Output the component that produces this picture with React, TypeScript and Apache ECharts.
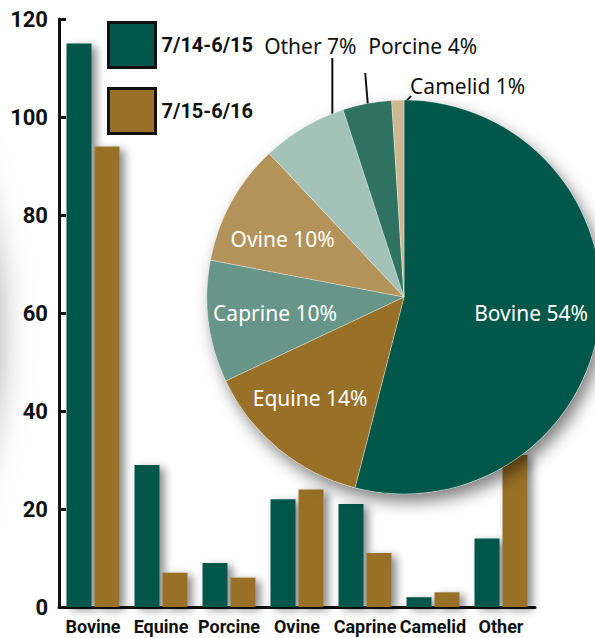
import React, { useEffect, useRef } from "react";
import * as echarts from "echarts";

const categories = ["Bovine", "Equine", "Porcine", "Ovine", "Caprine", "Camelid", "Other"];
const seriesNames = ["7/14-6/15", "7/15-6/16"];
const values1415 = [115, 29, 9, 22, 21, 2, 14];
const values1516 = [94, 7, 6, 24, 11, 3, 31];
const yMin = 0;
const yMax = 120;
const yInterval = 20;

const pieNames = ["Bovine", "Equine", "Caprine", "Ovine", "Other", "Porcine", "Camelid"];
const pieValues = [54, 14, 10, 10, 7, 4, 1];
const pieColors = ["#00574A", "#987028", "#679587", "#B39359", "#A3C2B8", "#2F7262", "#CDB991"];
const pieInside = [true, true, true, true, false, false, false];

const GREEN = "#00574A";
const BROWN = "#987028";
const CONDENSED = "Roboto, 'Liberation Sans Narrow', sans-serif";
const HUMANIST = "'Noto Sans', 'Open Sans', sans-serif";

const PIE_CX = 404;
const PIE_CY = 297;
const PIE_R = 197;

// point at fraction f through slice i, at radius rr
function slicePoint(i: number, f: number, rr: number): [number, number] {
  const total = pieValues.reduce((a, b) => a + b, 0);
  let acc = 0;
  for (let j = 0; j < i; j++) acc += pieValues[j];
  const ang = ((acc + pieValues[i] * f) / total) * Math.PI * 2;
  return [PIE_CX + Math.sin(ang) * rr, PIE_CY - Math.cos(ang) * rr];
}

const insideRatio = [0.65, 0.7, 0.66, 0.68];
const insideShift = [[0, 0], [-6, -5], [0, 0], [-4, 7]];

function pieLabelLayout(params: any) {
  const i = params.dataIndex;
  if (pieInside[i]) {
    const [x, y] = slicePoint(i, 0.5, PIE_R * insideRatio[i]);
    return {
      x: x + insideShift[i][0],
      y: y + insideShift[i][1],
      align: "center",
      verticalAlign: "middle",
    };
  }
  const name = pieNames[i];
  if (name === "Other") {
    const [sx, sy] = slicePoint(i, 0.83, PIE_R - 8);
    const ex = sx;
    const ey = 58;
    return {
      x: ex - 22,
      y: 46,
      align: "center",
      verticalAlign: "middle",
      labelLinePoints: [[sx, sy], [ex, (sy + ey) / 2], [ex, ey]],
    };
  }
  if (name === "Porcine") {
    const [sx, sy] = slicePoint(i, 0.5, PIE_R - 6);
    const ex = sx - 3;
    const ey = 73;
    return {
      x: ex + 3,
      y: 46,
      align: "left",
      verticalAlign: "middle",
      labelLinePoints: [[sx, sy], [ex, ey], [ex, ey]],
    };
  }
  // Camelid
  const [sx, sy] = slicePoint(i, 0.5, PIE_R - 9);
  const ex = sx + 13;
  const ey = sy - 13;
  return {
    x: ex - 1,
    y: 86,
    align: "left",
    verticalAlign: "middle",
    labelLinePoints: [[sx, sy], [ex, ey], [ex, ey]],
  };
}

export default function App() {
  const ref = useRef<HTMLDivElement>(null);

  useEffect(() => {
    if (!ref.current) return;
    const chart = echarts.init(ref.current, undefined, { renderer: "svg" });
    const pieTotal = pieValues.reduce((a, b) => a + b, 0);

    const barShadow = {
      shadowColor: "rgba(0,0,0,0.45)",
      shadowBlur: 9,
      shadowOffsetX: 5,
      shadowOffsetY: 3,
    };

    chart.setOption({
      animation: false,
      backgroundColor: "#ffffff",
      graphic: [
        {
          type: "circle",
          silent: true,
          z: -10,
          shape: { cx: -482, cy: 330, r: 480 },
          style: { fill: "#a8a8a8", shadowBlur: 34, shadowColor: "#a0a0a0" },
        },
      ],
      legend: {
        data: seriesNames,
        orient: "vertical",
        left: 102,
        top: 16,
        icon: "rect",
        itemWidth: 47,
        itemHeight: 45,
        itemGap: 18,
        itemStyle: { borderColor: "#111", borderWidth: 3, shadowBlur: 0, shadowOffsetX: 0, shadowOffsetY: 0 },
        textStyle: {
          fontFamily: CONDENSED,
          fontWeight: "bold",
          fontSize: 20,
          color: "#111",
          padding: [0, 0, 14, 1],
        },
      },
      grid: { left: 59, right: 60, top: 19, bottom: 31, outerBoundsMode: "none" },
      xAxis: {
        type: "category",
        data: categories,
        axisLine: { lineStyle: { color: "#111", width: 3 } },
        axisTick: { inside: true, length: 14, lineStyle: { color: "#111", width: 3 } },
        axisLabel: {
          fontFamily: CONDENSED,
          fontWeight: "bold",
          fontSize: 18,
          color: "#111",
          margin: 10,
          interval: 0,
        },
      },
      yAxis: {
        type: "value",
        min: yMin,
        max: yMax,
        interval: yInterval,
        splitLine: { show: false },
        axisLine: { show: true, lineStyle: { color: "#111", width: 3 } },
        axisTick: { show: true, inside: true, length: 7, lineStyle: { color: "#111", width: 3 } },
        axisLabel: {
          fontFamily: CONDENSED,
          fontWeight: "bold",
          fontSize: 22,
          color: "#111",
          margin: 11,
        },
      },
      series: [
        {
          name: seriesNames[0],
          type: "bar",
          data: values1415,
          barWidth: 25,
          barGap: "12%",
          itemStyle: { color: GREEN, ...barShadow },
          z: 2,
        },
        {
          name: seriesNames[1],
          type: "bar",
          data: values1516,
          barWidth: 25,
          barGap: "12%",
          itemStyle: { color: BROWN, ...barShadow },
          z: 2,
        },
        {
          name: "pie-shadow",
          type: "pie",
          silent: true,
          center: [PIE_CX, PIE_CY],
          radius: [0, PIE_R],
          z: 3,
          label: { show: false },
          labelLine: { show: false },
          data: [{ value: pieTotal, name: "" }],
          itemStyle: {
            color: "#ffffff",
            shadowColor: "rgba(0,0,0,0.5)",
            shadowBlur: 16,
            shadowOffsetX: 5,
            shadowOffsetY: 8,
          },
        },
        {
          name: "share",
          type: "pie",
          center: [PIE_CX, PIE_CY],
          radius: [0, PIE_R],
          startAngle: 90,
          clockwise: true,
          avoidLabelOverlap: false,
          z: 4,
          itemStyle: { borderColor: "rgba(255,255,255,0.55)", borderWidth: 0.6 },
          label: {
            formatter: "{b} {c}%",
            fontFamily: HUMANIST,
            fontSize: 21,
          },
          labelLine: { lineStyle: { color: "#111", width: 2 } },
          labelLayout: pieLabelLayout,
          data: pieNames.map((name, i) => ({
            name,
            value: pieValues[i],
            itemStyle: { color: pieColors[i] },
            label: pieInside[i]
              ? { show: true, position: "inside", color: "#ffffff" }
              : { show: true, position: "outside", color: "#111111" },
            labelLine: { show: !pieInside[i] },
          })),
        },
      ],
    });

    return () => chart.dispose();
  }, []);

  return (
    <div
      ref={ref}
      style={{ position: "absolute", left: 0, top: 0, width: 595, height: 638 }}
    />
  );
}
